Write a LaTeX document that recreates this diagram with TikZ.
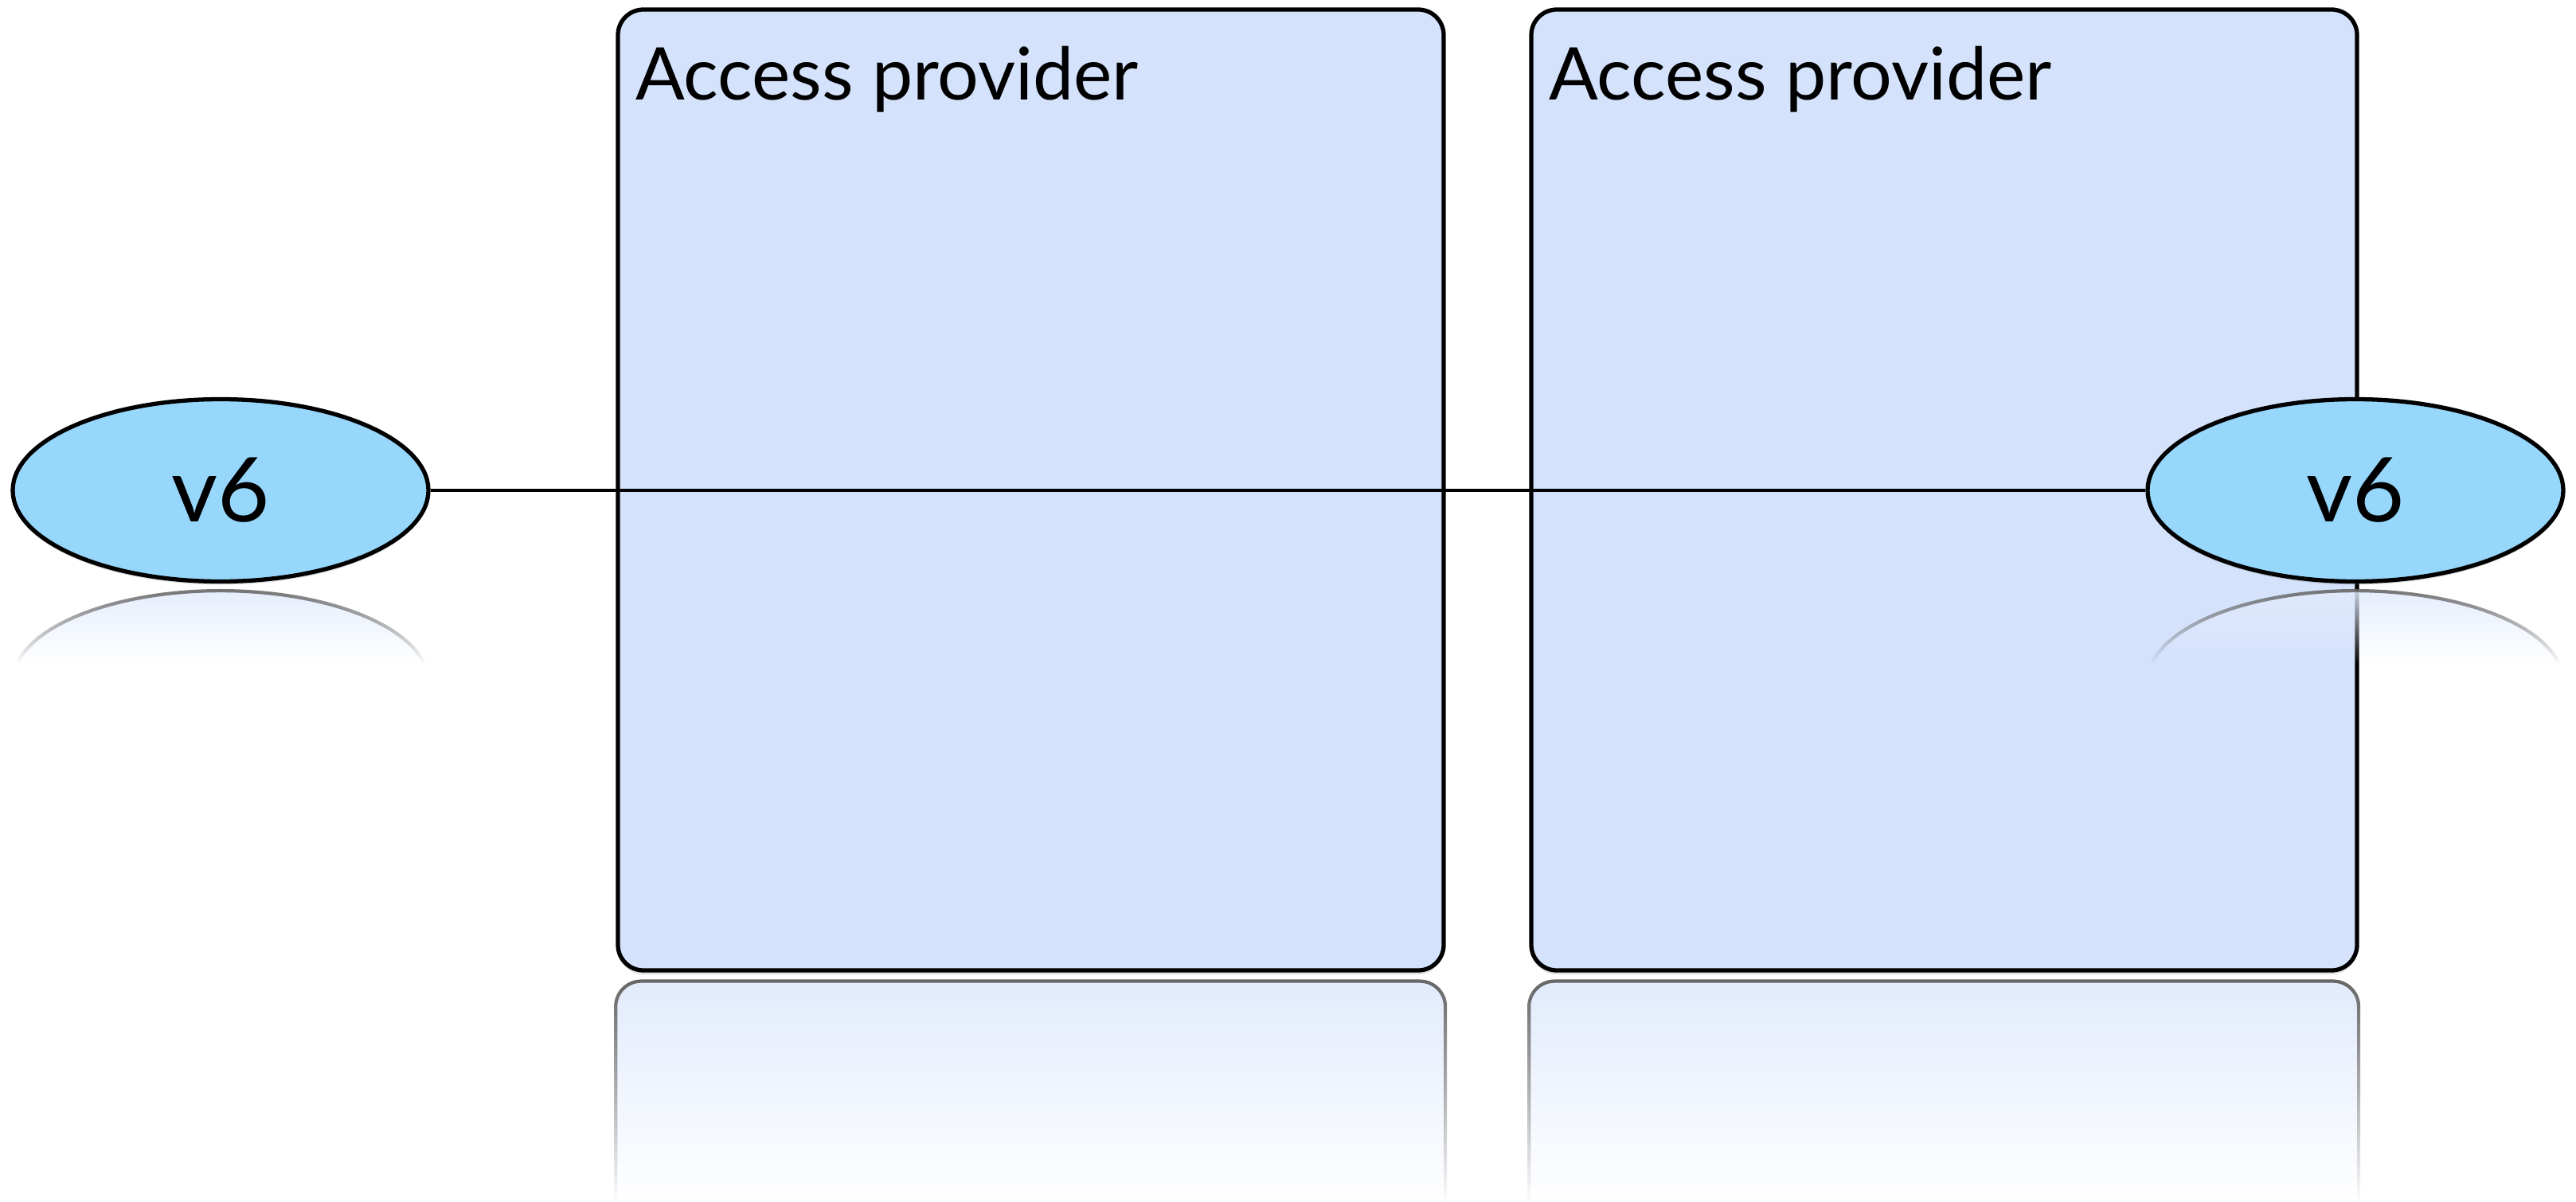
\documentclass[tikz,border=0pt]{standalone}
\usepackage{fontspec}
\setmainfont{Lato}
\usetikzlibrary{shapes.geometric,fadings,shadows}
\definecolor{boxblue}{RGB}{212,226,252}
\definecolor{nodeblue}{RGB}{151,215,251}
\definecolor{reflblue}{RGB}{226,235,252}
\tikzset{
  provider/.style={draw,line width=1.5pt,rounded corners=0.32cm,fill=boxblue,
    minimum width=10.37cm,minimum height=12.07cm,inner sep=0pt,
    drop shadow={shadow xshift=0pt,shadow yshift=-0.05cm,opacity=0.25}},
  vsix/.style={ellipse,draw,line width=1.5pt,fill=nodeblue,inner sep=0pt,
    minimum width=5.22cm,minimum height=2.29cm,font=\fontsize{32}{34}\selectfont,
    drop shadow={shadow xshift=0pt,shadow yshift=-0.04cm,opacity=0.25}},
  title/.style={anchor=base west,inner sep=0pt,font=\fontsize{26}{28}\selectfont},
  reflbox/.style={rounded corners=0.32cm,draw=gray!80!black,line width=1.2pt,fill=reflblue,path fading=south},
  reflell/.style={draw=gray!80!black,line width=1.2pt,fill=reflblue,path fading=south}
}
\begin{document}
\begin{tikzpicture}
\useasboundingbox (0,0) rectangle (32.35,-15.10);
\coordinate (bottom) at (0,-15.10);
% provider boxes
\node[provider] (box1) at (12.945,-6.155) {};
\node[provider] (box2) at (24.415,-6.155) {};
\node[title] (lbl1) at ([shift={(0.24,-1.16)}]box1.north west) {Access provider};
\node[title] (lbl2) at ([shift={(0.24,-1.16)}]box2.north west) {Access provider};
% reflections of the boxes
\foreach \b in {box1,box2}
  \draw[reflbox] (\b.south west |- bottom) -- ([yshift=-0.11cm]\b.south west)
    -- ([yshift=-0.11cm]\b.south east) -- (\b.south east |- bottom);
% end nodes
\node[vsix] (left) at (2.77,-6.16) {v6};
\node[vsix] (right) at (29.58,-6.16) {v6};
\draw[line width=1.2pt] (left.east) -- (right.west);
% reflections of the ellipses
\foreach \e in {left,right}
  \draw[reflell] ([shift={(-2.554,-1.0)}]\e.south)
    arc[start angle=168.16,end angle=11.84,x radius=2.61,y radius=1.145];
\end{tikzpicture}
\end{document}
